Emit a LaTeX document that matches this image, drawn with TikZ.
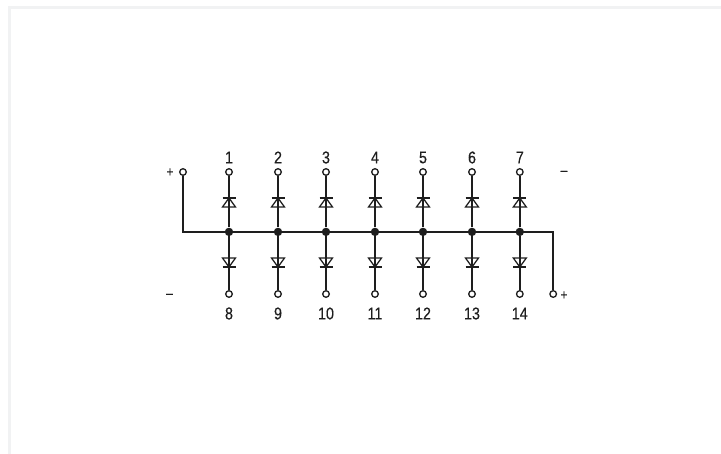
\documentclass[tikz,border=0pt]{standalone}
\usepackage{fontspec}
\setmainfont[FakeStretch=0.84,FakeBold=0.25]{Liberation Sans}
\definecolor{ink}{HTML}{1E1E1E}
\definecolor{frame}{HTML}{F1F2F3}
\tikzset{
  wire/.style={draw=ink,line width=1.6pt},
  term/.style={circle,draw=ink,fill=white,line width=1.3pt,minimum size=6.6pt,inner sep=0pt},
  junction/.style={circle,fill=ink,minimum size=8.4pt,inner sep=0pt},
  lbl/.style={text=ink,font=\fontsize{17pt}{19pt}\selectfont,inner sep=0pt,anchor=center},
  sign/.style={text=ink,font=\fontsize{14pt}{16pt}\selectfont,inner sep=0pt,anchor=center}
}
\newcommand{\diodeshape}[3]{% bar point, base point, name
  \path (#1) coordinate (#3b) (#2) coordinate (#3a);
  \draw[wire,line width=1.25pt,line join=miter] ([xshift=-6.5pt]#2) -- ([xshift=6.5pt]#2) -- (#1) -- cycle;
  \draw[wire,line width=1.25pt] ([xshift=-6.5pt]#1) -- ([xshift=6.5pt]#1);
}
\begin{document}
\begin{tikzpicture}[x=1pt,y=-1pt]
\useasboundingbox (0,0) rectangle (721,454);
\fill[white] (0,0) rectangle (721,454);
\fill[frame] (8,6) rectangle (721,9.5);
\fill[frame] (8,6) rectangle (11,454);

\coordinate (busL) at (183,231.9);
\coordinate (busR) at (553.2,231.9);
\node[term] (plusT) at (183,172) {};
\node[term] (plusB) at (553.2,294) {};

% bus and outer leads
\draw[wire,line join=miter] (plusT) -- (busL) -- (busR) -- (plusB);

\foreach \i/\b/\x in {1/8/229,2/9/278,3/10/326,4/11/375,5/12/423,6/13/472,7/14/519.8}{
  \node[term] (t\i) at (\x,172) {};
  \node[term] (t\b) at (\x,294) {};
  \node[junction] (j\i) at (\x,231.9) {};
  \draw[wire] (t\i) -- (j\i);
  \draw[wire] (t\b) -- (j\i);
  \diodeshape{\x,198}{\x,207}{du\i}
  \diodeshape{\x,267}{\x,258}{dd\i}
  \node[lbl] (n\i) at (\x,157.5) {\i};
  \node[lbl] (n\b) at (\x,313.5) {\b};
}
\node[sign] (sp1) at (170,172.5) {+};
\node[sign] (sm1) at (169.5,296) {–};
\node[sign] (sm2) at (564,173) {–};
\node[sign] (sp2) at (564,295.5) {+};
\end{tikzpicture}
\end{document}
